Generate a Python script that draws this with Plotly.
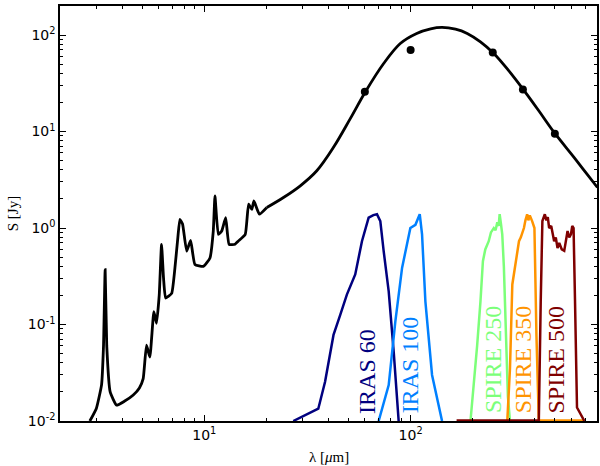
import math
import plotly.graph_objs as go

# model SED (wavelength in micron, flux in Jy)
sed_wave = [2.79, 3.0, 3.18, 3.25, 3.31, 3.37, 3.5, 3.76, 4.1, 4.53, 4.85, 5.06, 5.25, 5.45, 5.70, 5.87,
            6.05, 6.21, 6.35, 6.50, 6.95, 7.21, 7.45, 7.62, 7.85, 8.22, 8.59, 9.01, 9.9, 10.66, 11.06,
            11.27, 11.7, 12.15, 12.7, 13.2, 14.1, 14.6, 15.8, 16.4, 17.0, 17.4, 18.5, 20.1, 24.2, 29.2,
            35.1, 42.3, 51, 60.3, 74, 89.1, 107, 125, 142, 165, 188, 218, 253, 298, 354, 417, 495, 619,
            705, 804]
sed_flux = [0.01, 0.0135, 0.0237, 0.06, 0.37, 0.06, 0.02, 0.0146, 0.016, 0.0186, 0.022, 0.0275, 0.061, 0.046,
            0.136, 0.103, 0.2, 0.676, 0.3, 0.188, 0.21, 0.386, 0.8, 1.23, 1.1, 0.576, 0.745, 0.419, 0.40,
            0.49, 0.93, 2.15, 0.86, 0.93, 1.28, 0.676, 0.68, 0.73, 0.86, 1.77, 1.56, 1.91, 1.39, 1.63, 2.07,
            2.74, 3.92, 6.86, 13.6, 25.7, 50.7, 81.8, 104, 116, 120, 115, 104, 85, 64.4, 43, 26.7, 16.5,
            9.84, 5.4, 3.77, 2.63]
split = 43  # index of 20.1 micron: smooth dust continuum from here on

# photometry
phot_wave = [60, 100, 250, 350, 500]
phot_flux = [25.9, 69.8, 66, 27.2, 9.46]

# filter transmission curves (arbitrary scale)
iras60_wave = [27, 35.7, 38.5, 42.3, 45.6, 49.1, 53.9, 58.1, 62.6, 66, 68.7, 71.3, 74, 78.3, 82.8, 87.5]
iras60_resp = [0.01, 0.0134, 0.0255, 0.078, 0.126, 0.204, 0.33, 0.73, 1.28, 1.36, 1.39, 1.18, 0.58, 0.22, 0.052, 0.01]

iras100_wave = [70, 78.3, 84.3, 90.9, 99.7, 105.5, 110.7, 113.6, 117.9, 127, 142]
iras100_resp = [0.01, 0.0236, 0.107, 0.386, 1.0, 1.08, 1.39, 0.86, 0.174, 0.03, 0.01]

spire250_wave = [195, 202, 210, 218, 224, 230, 239, 245, 253, 258, 263, 267, 270, 274, 278, 283, 288, 296, 303]
spire250_resp = [0.01, 0.0217, 0.06, 0.174, 0.453, 0.6, 0.73, 0.9, 1.0, 0.95, 1.15, 1.05, 1.39, 1.1, 0.86, 0.4, 0.116, 0.018, 0.01]

spire350_wave = [294, 303, 311, 322, 328, 335, 342, 354, 360, 367, 372, 378, 388, 398, 407, 418, 520, 690]
spire350_resp = [0.01, 0.035, 0.26, 0.42, 0.5, 0.73, 0.8, 1.0, 1.2, 1.39, 1.2, 1.35, 1.18, 1.0, 0.078, 0.0101, 0.0101, 0.0101]

spire500_wave = [167, 300, 418, 427, 435, 447, 455, 462, 469, 480, 496, 505, 515, 525, 540, 555, 565,
                 576, 587, 598, 607, 616, 626, 640, 695]
spire500_resp = [0.0101, 0.0101, 0.0101, 0.174, 1.18, 1.39, 1.2, 1.3, 1.0, 1.05, 0.73, 0.8, 0.62, 0.7, 0.6, 0.58, 0.75,
                 0.93, 0.8, 0.86, 1.05, 1.0, 0.174, 0.0138, 0.01]

band_names = ['IRAS 60', 'IRAS 100', 'SPIRE 250', 'SPIRE 350', 'SPIRE 500']
band_colors = ['#00007f', '#0080ff', '#7cff79', '#ff9400', '#7f0000']
label_x = [61.4, 99.7, 251, 351, 509]
label_y = 0.0114

bands = [
    (iras60_wave, iras60_resp),
    (iras100_wave, iras100_resp),
    (spire250_wave, spire250_resp),
    (spire350_wave, spire350_resp),
    (spire500_wave, spire500_resp),
]

data = []
for (wave, resp), color in zip(bands, band_colors):
    data.append(go.Scatter(
        x = wave,
        y = resp,
        mode = 'lines',
        line = {'color': color, 'width': 2.5},
        showlegend = False,
    ))

# mid-IR part with sharp PAH features
data.append(go.Scatter(
    x = sed_wave[:split + 1],
    y = sed_flux[:split + 1],
    mode = 'lines',
    line = {'color': 'black', 'width': 2.8, 'shape': 'spline', 'smoothing': 0.4},
    showlegend = False,
))
# far-IR dust bump
data.append(go.Scatter(
    x = sed_wave[split:],
    y = sed_flux[split:],
    mode = 'lines',
    line = {'color': 'black', 'width': 2.8, 'shape': 'spline', 'smoothing': 1},
    showlegend = False,
))
data.append(go.Scatter(
    x = phot_wave,
    y = phot_flux,
    mode = 'markers',
    marker = {'color': 'black', 'size': 8},
    showlegend = False,
))

annotations = []
for name, color, x in zip(band_names, band_colors, label_x):
    annotations.append({
        'x': math.log10(x),
        'y': math.log10(label_y),
        'xref': 'x',
        'yref': 'y',
        'text': name,
        'textangle': -90,
        'showarrow': False,
        'xanchor': 'center',
        'yanchor': 'bottom',
        'font': {'family': 'Liberation Serif', 'size': 24, 'color': color},
    })

title_font = {'family': 'Liberation Serif', 'size': 15, 'color': 'black'}
annotations.append({
    'x': 0.5, 'y': -0.087, 'xref': 'paper', 'yref': 'paper',
    'text': 'λ [<i>μ</i>m]', 'showarrow': False,
    'xanchor': 'center', 'yanchor': 'middle', 'font': title_font,
})
annotations.append({
    'x': -0.088, 'y': 0.5, 'xref': 'paper', 'yref': 'paper',
    'text': 'S [Jy]', 'showarrow': False, 'textangle': -90,
    'xanchor': 'center', 'yanchor': 'middle', 'font': title_font,
})

minor_x = [m * 10 ** d for d in range(0, 3) for m in range(2, 10)]
minor_y = [m * 10 ** d for d in range(-2, 3) for m in range(2, 10)]

axis_common = {
    'type': 'log',
    'automargin': False,
    'showgrid': False,
    'zeroline': False,
    'showline': True,
    'linecolor': 'black',
    'linewidth': 1.5,
    'mirror': 'ticks',
    'ticks': 'inside',
    'ticklen': 6,
    'tickcolor': 'black',
    'tickfont': {'family': 'DejaVu Sans', 'size': 14, 'color': 'black'},
}

layout = {
    'width': 600,
    'height': 466,
    'margin': {'l': 60, 'r': 3, 't': 6, 'b': 45},
    'paper_bgcolor': 'white',
    'plot_bgcolor': 'white',
    'xaxis': dict(axis_common,
        range = [math.log10(2), math.log10(800)],
        tickvals = [10, 100],
        ticktext = ['10<sup>1</sup>', '10<sup>2</sup>'],
        minor = {'tickvals': minor_x, 'ticks': 'inside', 'ticklen': 3, 'tickcolor': 'black'},
    ),
    'yaxis': dict(axis_common,
        range = [-2, math.log10(200)],
        tickvals = [0.01, 0.1, 1, 10, 100],
        ticktext = ['10<sup>-2</sup>', '10<sup>-1</sup>', '10<sup>0</sup>', '10<sup>1</sup>', '10<sup>2</sup>'],
        minor = {'tickvals': minor_y, 'ticks': 'inside', 'ticklen': 3, 'tickcolor': 'black'},
    ),
    'annotations': annotations,
}

fig = go.Figure(data = data, layout = layout)
# the page's default body margin would push the figure out of the window
fig.write_html(
    'out.html',
    config = {'displayModeBar': False},
    post_script = "document.body.style.margin = '0';",
)
